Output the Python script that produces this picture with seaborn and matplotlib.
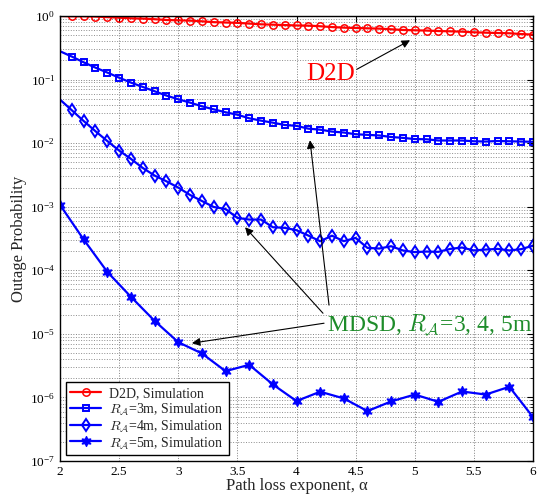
import matplotlib
matplotlib.use("Agg")
import matplotlib.pyplot as plt
import seaborn as sns
from matplotlib.ticker import LogLocator, NullFormatter, FixedLocator

# Path loss exponent grid (fine grid for D2D / R_A=3m / R_A=4m, coarse grid for R_A=5m)
alpha_fine = [2.0, 2.1, 2.2, 2.3, 2.4, 2.5, 2.6, 2.7, 2.8, 2.9,
              3.0, 3.1, 3.2, 3.3, 3.4, 3.5, 3.6, 3.7, 3.8, 3.9,
              4.0, 4.1, 4.2, 4.3, 4.4, 4.5, 4.6, 4.7, 4.8, 4.9,
              5.0, 5.1, 5.2, 5.3, 5.4, 5.5, 5.6, 5.7, 5.8, 5.9, 6.0]
alpha_coarse = [2.0, 2.2, 2.4, 2.6, 2.8, 3.0, 3.2, 3.4, 3.6, 3.8,
                4.0, 4.2, 4.4, 4.6, 4.8, 5.0, 5.2, 5.4, 5.6, 5.8, 6.0]

# Outage probability, simulation results
pout_d2d = [1.00, 0.99, 0.99, 0.98, 0.96, 0.94, 0.92, 0.91, 0.89, 0.865,
            0.855, 0.845, 0.825, 0.80, 0.79, 0.78, 0.76, 0.74, 0.73, 0.72,
            0.71, 0.705, 0.69, 0.67, 0.656, 0.648, 0.64, 0.633, 0.618, 0.603,
            0.596, 0.59, 0.58, 0.574, 0.567, 0.554, 0.547, 0.54, 0.535, 0.52, 0.51]
pout_ra3 = [0.279, 0.23, 0.187, 0.154, 0.129, 0.107, 0.0896, 0.0766, 0.0655, 0.056,
            0.049, 0.0434, 0.038, 0.034, 0.0306, 0.028, 0.0246, 0.0226, 0.021, 0.0193,
            0.0187, 0.0169, 0.0163, 0.0152, 0.0147, 0.0138, 0.0135, 0.0132, 0.0125, 0.0121,
            0.0116, 0.0115, 0.0110, 0.0110, 0.0110, 0.0107, 0.0106, 0.0108, 0.0107, 0.0106, 0.0105]
pout_ra4 = [0.0484, 0.0329, 0.0223, 0.0154, 0.0108, 0.00764, 0.00565, 0.00407, 0.00309, 0.00251,
            0.0020, 0.00153, 0.00123, 0.00099, 0.00092, 0.000667, 0.000628, 0.000628, 0.000476, 0.000465,
            0.000427, 0.000352, 0.000286, 0.000350, 0.000287, 0.000323, 0.000225, 0.00022, 0.000239, 0.000205,
            0.000193, 0.000197, 0.000195, 0.000217, 0.000228, 0.000205, 0.000212, 0.000217, 0.000205, 0.000215, 0.000244]
pout_ra5 = [1.07e-3, 3.05e-4, 9.44e-5, 3.82e-5, 1.6e-5, 7.4e-6, 4.92e-6, 2.59e-6, 3.26e-6, 1.6e-6,
            8.77e-7, 1.23e-6, 9.64e-7, 6.1e-7, 8.65e-7, 1.11e-6, 8.53e-7, 1.24e-6, 1.11e-6, 1.47e-6, 4.9e-7]

series_labels = ["D2D, Simulation",
                 r"$R_{\mathcal{A}}$=3m, Simulation",
                 r"$R_{\mathcal{A}}$=4m, Simulation",
                 r"$R_{\mathcal{A}}$=5m, Simulation"]

xtick_values = [2, 2.5, 3, 3.5, 4, 4.5, 5, 5.5, 6]
xtick_labels = ["2", "2.5", "3", "3.5", "4", "4.5", "5", "5.5", "6"]

sns.set_style("white")
plt.rcParams["font.family"] = ["Liberation Serif", "DejaVu Serif"]
plt.rcParams["mathtext.fontset"] = "cm"

fig = plt.figure(figsize=(5.41, 4.97), dpi=100)
ax = fig.add_axes([60 / 541, 1 - 461 / 497, 473 / 541, 445 / 497])

common = dict(ax=ax, errorbar=None, linewidth=1.6)
sns.lineplot(x=alpha_fine, y=pout_d2d, color="red", marker="o", markersize=5.3,
             markerfacecolor="none", markeredgecolor="red", markeredgewidth=1.1,
             markevery=slice(1, None), label=series_labels[0], **common)
sns.lineplot(x=alpha_fine, y=pout_ra3, color="blue", marker="s", markersize=4.5,
             markerfacecolor="none", markeredgecolor="blue", markeredgewidth=1.4,
             markevery=slice(1, None), label=series_labels[1], **common)
sns.lineplot(x=alpha_fine, y=pout_ra4, color="blue", marker="d", markersize=6.5,
             markerfacecolor="none", markeredgecolor="blue", markeredgewidth=1.4,
             markevery=slice(1, None), label=series_labels[2], **common)
sns.lineplot(x=alpha_coarse, y=pout_ra5, color="blue", marker=(6, 1, 0), markersize=7.5,
             markerfacecolor="blue", markeredgecolor="blue", markeredgewidth=0.8,
             label=series_labels[3], **common)

ax.set_yscale("log")
ax.set_xlim(2, 6)
ax.set_ylim(1e-7, 1)
ax.xaxis.set_major_locator(FixedLocator(xtick_values))
ax.set_xticklabels(xtick_labels)
ax.yaxis.set_major_locator(LogLocator(base=10, numticks=12))
ax.yaxis.set_minor_locator(LogLocator(base=10, subs=range(2, 10), numticks=12))
ax.yaxis.set_minor_formatter(NullFormatter())

ax.grid(True, which="major", linestyle=":", color="0.5", linewidth=0.7)
ax.grid(True, which="minor", axis="y", linestyle=":", color="0.55", linewidth=0.7)
ax.tick_params(which="both", direction="in", top=True, right=True, labelsize=9.5,
               colors="black")
ax.tick_params(which="major", length=4, width=0.8)
ax.tick_params(which="minor", length=2, width=0.6)
for sp in ax.spines.values():
    sp.set_color("black")
    sp.set_linewidth(1.0)

ax.set_xlabel("Path loss exponent, α", fontsize=12, labelpad=0)
ax.set_ylabel("Outage Probability", fontsize=12, labelpad=2)

leg = ax.legend(loc="lower left", fontsize=10, frameon=True, fancybox=False,
                edgecolor="black", framealpha=1, borderaxespad=0.4,
                handlelength=2.2, labelspacing=0.08, borderpad=0.35, handletextpad=0.6)
leg.get_frame().set_linewidth(1.0)

arrow = dict(arrowstyle="-|>", color="black", lw=0.8, mutation_scale=12,
             shrinkA=0, shrinkB=0)

ax.text(4.08, 0.0975, "D2D", color="red", fontsize=18, ha="left", va="baseline")
ax.annotate("", xy=(4.96, 0.415), xytext=(4.51, 0.145), arrowprops=arrow)

ax.text(4.258, 1.14e-5, r"MDSD, $R_{\mathcal{A}}$=3, 4, 5m",
        color="#1e8c2a", fontsize=17, ha="left", va="baseline")
ax.annotate("", xy=(4.114, 0.0111), xytext=(4.275, 2.83e-5), arrowprops=arrow)
ax.annotate("", xy=(3.565, 4.75e-4), xytext=(4.224, 2.11e-5), arrowprops=arrow)
ax.annotate("", xy=(3.116, 7.14e-6), xytext=(4.233, 1.47e-5), arrowprops=arrow)

fig.savefig("out.png", dpi=100)
